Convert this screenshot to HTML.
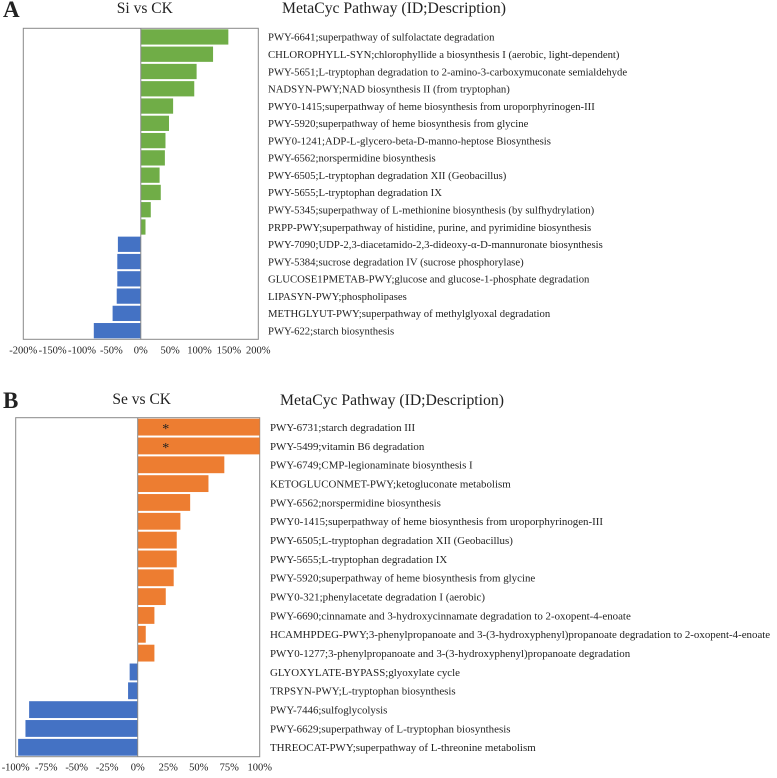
<!DOCTYPE html>
<html><head><meta charset="utf-8"><style>
body{margin:0;background:#fff}
svg text{font-family:"Liberation Serif",serif;fill:#222}
</style></head><body>
<svg id="s" width="777" height="773"></svg>
<script>
const catsA=["PWY-6641;superpathway of sulfolactate degradation","CHLOROPHYLL-SYN;chlorophyllide a biosynthesis I (aerobic, light-dependent)","PWY-5651;L-tryptophan degradation to 2-amino-3-carboxymuconate semialdehyde","NADSYN-PWY;NAD biosynthesis II (from tryptophan)","PWY0-1415;superpathway of heme biosynthesis from uroporphyrinogen-III","PWY-5920;superpathway of heme biosynthesis from glycine","PWY0-1241;ADP-L-glycero-beta-D-manno-heptose Biosynthesis","PWY-6562;norspermidine biosynthesis","PWY-6505;L-tryptophan degradation XII (Geobacillus)","PWY-5655;L-tryptophan degradation IX","PWY-5345;superpathway of L-methionine biosynthesis (by sulfhydrylation)","PRPP-PWY;superpathway of histidine, purine, and pyrimidine biosynthesis","PWY-7090;UDP-2,3-diacetamido-2,3-dideoxy-α-D-mannuronate biosynthesis","PWY-5384;sucrose degradation IV (sucrose phosphorylase)","GLUCOSE1PMETAB-PWY;glucose and glucose-1-phosphate degradation","LIPASYN-PWY;phospholipases","METHGLYUT-PWY;superpathway of methylglyoxal degradation","PWY-622;starch biosynthesis"];
const valsA=[149,123,95,91,55,48,42,41,32,34,17,8,-39,-40,-40,-41,-48,-80];
const ticksA=[-200,-150,-100,-50,0,50,100,150,200];
const catsB=["PWY-6731;starch degradation III","PWY-5499;vitamin B6 degradation","PWY-6749;CMP-legionaminate biosynthesis I","KETOGLUCONMET-PWY;ketogluconate metabolism","PWY-6562;norspermidine biosynthesis","PWY0-1415;superpathway of heme biosynthesis from uroporphyrinogen-III","PWY-6505;L-tryptophan degradation XII (Geobacillus)","PWY-5655;L-tryptophan degradation IX","PWY-5920;superpathway of heme biosynthesis from glycine","PWY0-321;phenylacetate degradation I (aerobic)","PWY-6690;cinnamate and 3-hydroxycinnamate degradation to 2-oxopent-4-enoate","HCAMHPDEG-PWY;3-phenylpropanoate and 3-(3-hydroxyphenyl)propanoate degradation to 2-oxopent-4-enoate","PWY0-1277;3-phenylpropanoate and 3-(3-hydroxyphenyl)propanoate degradation","GLYOXYLATE-BYPASS;glyoxylate cycle","TRPSYN-PWY;L-tryptophan biosynthesis","PWY-7446;sulfoglycolysis","PWY-6629;superpathway of L-tryptophan biosynthesis","THREOCAT-PWY;superpathway of L-threonine metabolism"];
const valsB=[100,100,71,58,43,35,32,32,29.5,23,13.7,6.6,13.7,-6.6,-7.9,-89,-92,-98];
const starsB=[1,1,0,0,0,0,0,0,0,0,0,0,0,0,0,0,0,0];
const ticksB=[-100,-75,-50,-25,0,25,50,75,100];
const svg=document.getElementById('s');const NS='http://www.w3.org/2000/svg';
function mk(t,a,p){const e=document.createElementNS(NS,t);for(const k in a)e.setAttribute(k,a[k]);(p||svg).appendChild(e);return e;}
function panel(o){
 const {cats,vals,ticks,min,max,x0,x1,y0,y1,pos,neg,letter,title,tx,lx,ty,tty,stars,key,fs}=o;
 const g=mk('g',{});
 
 
 const sx=v=>x0+(v-min)/(max-min)*(x1-x0);
 const rh=(y1-y0)/cats.length;
 const L=mk('text',{x:3,y:ty+4,'font-size':23,'font-weight':'bold'},g);L.textContent=letter;
 
 const T=mk('text',{x:sx(0)+4,y:ty,'font-size':15.5,'text-anchor':'middle'},g);T.textContent=title;
 
 const M=mk('text',{x:tx,y:tty,'font-size':15.7},g);M.textContent='MetaCyc Pathway (ID;Description)';
 
 const b=mk('rect',{x:x0,y:y0,width:x1-x0,height:y1-y0,fill:'none',stroke:'#888','stroke-width':1},g);
 
 vals.forEach((v,i)=>{
  const a=sx(Math.min(0,v)),w=Math.abs(sx(v)-sx(0));
  const r=mk('rect',{x:a,y:y0+i*rh+1,width:w,height:rh-2,fill:v>=0?pos:neg},g);
  
  if(stars&&stars[i]){const s=mk('text',{x:sx(0)+28,y:y0+i*rh+rh/2+6,'font-size':14,'text-anchor':'middle'},g);s.textContent='*';
   }
  const t=mk('text',{x:lx,y:y0+i*rh+rh/2+3.8,'font-size':fs},g);t.textContent=cats[i];
  
 });
 const z=mk('line',{x1:sx(0),x2:sx(0),y1:y0,y2:y1,stroke:'#888'},g);
 
 ticks.forEach(v=>{const t=mk('text',{x:sx(v),y:y1+14,'font-size':10.5,'text-anchor':'middle'},g);t.textContent=v+'%';
  });
}
panel({key:'a',cats:catsA,vals:valsA,ticks:ticksA,min:-200,max:200,x0:23.3,x1:258.3,y0:28.3,y1:339.3,pos:'#70ad47',neg:'#4472c4',letter:'A',title:'Si vs CK',tx:282,tty:13,lx:268,ty:13,fs:10.7});
panel({key:'b',cats:catsB,vals:valsB,ticks:ticksB,min:-100,max:100,x0:15.7,x1:259.7,y0:417.7,y1:756.7,pos:'#ed7d31',neg:'#4472c4',letter:'B',title:'Se vs CK',tx:280,tty:405,lx:270,ty:404,stars:starsB,fs:10.9});
</script>
</body></html>
